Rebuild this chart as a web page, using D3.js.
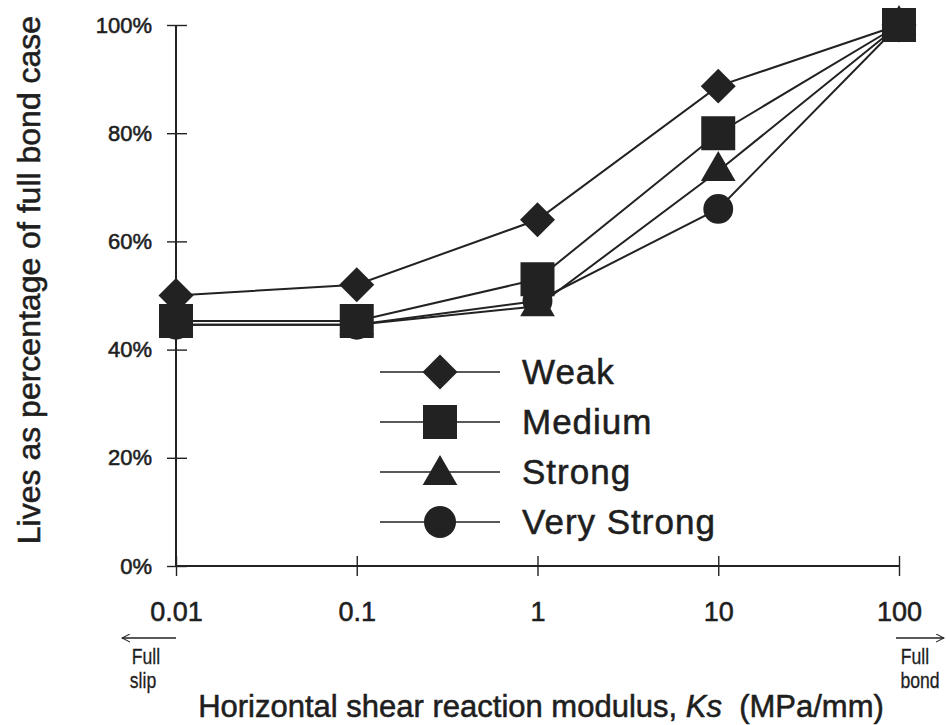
<!DOCTYPE html>
<html>
<head>
<meta charset="utf-8">
<script src="https://cdn.jsdelivr.net/npm/d3@7"></script>
<style>
  html, body { margin: 0; padding: 0; background: #fff; }
  svg { display: block; font-family: Arial, "Liberation Sans", sans-serif; }
  text { fill: #1e1e1e; stroke: #1e1e1e; stroke-width: 0.55px; }
</style>
</head>
<body>
<svg id="chart" width="946" height="725"></svg>
<script>
// Shear modulus values (MPa/mm) along the log axis
const ksValues = [0.01, 0.1, 1, 10, 100];
const ksLabels = ["0.01", "0.1", "1", "10", "100"];
const yTicks = [0, 20, 40, 60, 80, 100];

// Lives as % of the full bond case, one array per interface strength
const weak = [50, 52, 64, 88.7, 100];
const medium = [45.3, 45.3, 53, 80, 100];
const strong = [44.6, 44.6, 48, 73, 100];
const veryStrong = [44.6, 44.6, 49, 66, 100];

const seriesNames = ["Weak", "Medium", "Strong", "Very Strong"];
const seriesValues = [weak, medium, strong, veryStrong];
const seriesSymbols = [d3.symbolDiamond2, d3.symbolSquare2, d3.symbolTriangle2, d3.symbolCircle];
const symbolSizes = [780, 1470, 860, 700];
// Marker stacking: Medium squares sit on top of everything else
const drawOrder = [3, 2, 0, 1];

const svg = d3.select("#chart");
const ink = "#222";

const x = d3.scaleLog().domain([0.01, 100]).range([176, 899]);
const y = d3.scaleLinear().domain([0, 100]).range([566, 25]);

// Axes: short ticks straddle the axis lines
const yAxis = svg.append("g").attr("transform", "translate(176,0)")
  .call(d3.axisLeft(y).tickValues(yTicks).tickSize(0).tickFormat(d => d + "%"));
yAxis.select(".domain").remove();
yAxis.selectAll(".tick text").attr("x", -24).attr("font-size", 22);
yAxis.selectAll(".tick").append("line").attr("x1", -9).attr("x2", 11)
  .attr("stroke", ink).attr("stroke-width", 1.4);
svg.append("line").attr("x1", 176).attr("x2", 176).attr("y1", y(100)).attr("y2", y(0))
  .attr("stroke", ink).attr("stroke-width", 2);

const xAxis = svg.append("g").attr("transform", "translate(0,566)")
  .call(d3.axisBottom(x).tickValues(ksValues).tickSize(0).tickFormat((d, i) => ksLabels[i]));
xAxis.select(".domain").remove();
xAxis.selectAll(".tick text").attr("y", 55).attr("dy", 0).attr("font-size", 27);
xAxis.selectAll(".tick").append("line").attr("y1", -10).attr("y2", 10)
  .attr("stroke", ink).attr("stroke-width", 1.4);
svg.append("line").attr("x1", x(0.01)).attr("x2", x(100)).attr("y1", 566).attr("y2", 566)
  .attr("stroke", ink).attr("stroke-width", 2);

// Series lines
const line = d3.line().x((d, i) => x(ksValues[i])).y(d => y(d));
seriesValues.forEach(vals => {
  svg.append("path").attr("d", line(vals)).attr("fill", "none")
    .attr("stroke", ink).attr("stroke-width", 2);
});

// Markers
drawOrder.forEach(s => {
  const sym = d3.symbol().type(seriesSymbols[s]).size(symbolSizes[s]);
  svg.append("g").selectAll("path").data(seriesValues[s]).join("path")
    .attr("d", sym)
    .attr("transform", (d, i) => `translate(${x(ksValues[i])},${y(d)})`)
    .attr("fill", ink);
});

// Legend
const legend = svg.append("g");
seriesNames.forEach((name, i) => {
  const ly = 372 + i * 50;
  const sym = d3.symbol().type(seriesSymbols[i]).size(symbolSizes[i] * (i === 3 ? 1.15 : 1));
  legend.append("line").attr("x1", 380).attr("x2", 500).attr("y1", ly).attr("y2", ly)
    .attr("stroke", ink).attr("stroke-width", 1.5);
  legend.append("path").attr("d", sym)
    .attr("transform", `translate(440,${ly + (i === 2 ? 3 : 0)})`).attr("fill", ink);
  legend.append("text").attr("x", 522).attr("y", ly + 12)
    .attr("font-size", 35).attr("letter-spacing", 1).text(name);
});

// End annotations with arrows
const defs = svg.append("defs");
defs.append("marker").attr("id", "arrow").attr("viewBox", "0 0 10 10")
  .attr("refX", 9).attr("refY", 5).attr("markerWidth", 9).attr("markerHeight", 9)
  .attr("markerUnits", "userSpaceOnUse")
  .attr("orient", "auto")
  .append("path").attr("d", "M0,0.5 L9,5 L0,9.5").attr("fill", "none")
  .attr("stroke", ink).attr("stroke-width", 1.2);

svg.append("line").attr("x1", x(0.01)).attr("x2", 122).attr("y1", 638).attr("y2", 638)
  .attr("stroke", ink).attr("stroke-width", 1.4).attr("marker-end", "url(#arrow)");
svg.append("line").attr("x1", 896).attr("x2", 944).attr("y1", 638).attr("y2", 638)
  .attr("stroke", ink).attr("stroke-width", 1.4).attr("marker-end", "url(#arrow)");

const notes = [
  { t: "Full", x: 146, y: 664 },
  { t: "slip", x: 143, y: 688 },
  { t: "Full", x: 915, y: 664 },
  { t: "bond", x: 920, y: 688 }
];
notes.forEach(n => {
  svg.append("text")
    .attr("transform", `translate(${n.x},${n.y}) scale(0.8,1)`)
    .attr("text-anchor", "middle").attr("font-size", 22)
    .style("stroke-width", "0.3px").text(n.t);
});

// Axis titles
const xTitle = svg.append("text").attr("x", 541).attr("y", 717).attr("text-anchor", "middle")
  .attr("font-size", 31);
xTitle.append("tspan").text("Horizontal shear reaction modulus, ");
xTitle.append("tspan").attr("font-style", "italic").text("Ks");
xTitle.append("tspan").text("\u00a0 (MPa/mm)");

svg.append("text").attr("transform", "translate(40,280) rotate(-90)")
  .attr("text-anchor", "middle").attr("font-size", 32)
  .text("Lives as percentage of full bond case");
</script>
</body>
</html>
